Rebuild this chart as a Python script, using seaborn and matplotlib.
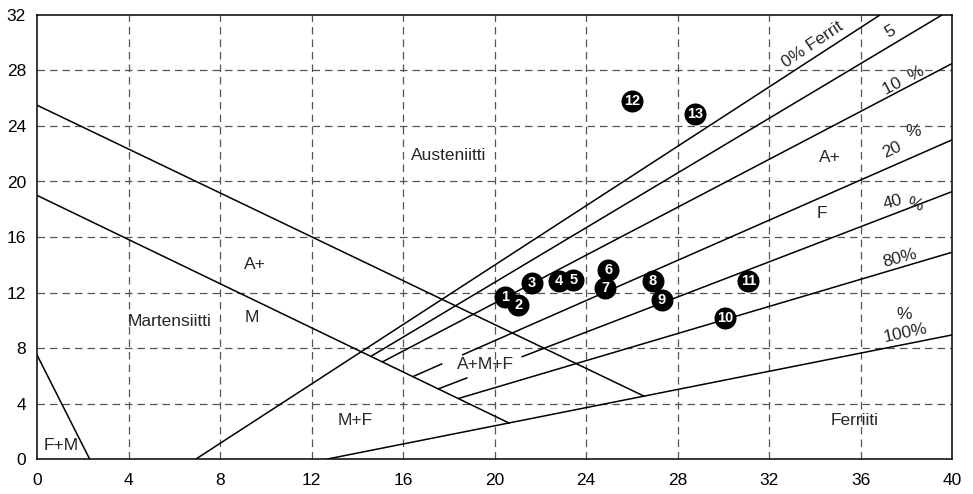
import numpy as np
import pandas as pd
import matplotlib
matplotlib.use("Agg")
import matplotlib.pyplot as plt
import seaborn as sns

# Phase boundaries (Cr-equivalent on x, Ni-equivalent on y)
boundary_names = ["A/A+M", "M/A+M", "F+M"]
boundary_x0 = [0.0, 0.0, 0.0]
boundary_y0 = [25.5, 19.0, 7.5]
boundary_x1 = [26.55, 20.65, 2.3]
boundary_y1 = [4.52, 2.58, 0.0]

# Iso-ferrite lines
ferrite_pct = [0, 5, 10, 20, 40, 80, 100]
ferrite_x0 = [6.95, 14.6, 15.1, 16.45, 17.54, 18.42, 12.7]
ferrite_y0 = [0.0, 7.4, 7.0, 5.95, 5.05, 4.36, 0.0]
ferrite_x1 = [36.85, 39.56, 40.0, 40.0, 40.0, 40.0, 40.0]
ferrite_y1 = [32.0, 32.0, 28.5, 23.0, 19.27, 14.9, 8.94]
# Breaks left open around the A+M+F label (x range, per ferrite %)
gap_pct = [20, 40]
gap_from = [17.7, 18.8]
gap_to = [18.6, 21.2]

# Weld metal samples
sample_id = [str(i) for i in range(1, 14)]
sample_cr = [20.46, 21.04, 21.63, 22.82, 23.45, 24.98, 24.83, 26.92, 27.31, 30.08, 31.1, 26.0, 28.77]
sample_ni = [11.7, 11.1, 12.71, 12.85, 12.9, 13.62, 12.3, 12.85, 11.46, 10.14, 12.85, 25.8, 24.9]

ticks_x = list(range(0, 41, 4))
ticks_y = list(range(0, 33, 4))

sns.set_theme(style="white")
plt.rcParams["font.family"] = ["Liberation Sans", "DejaVu Sans"]

fig = plt.figure(figsize=(9.73, 4.94), dpi=100)
ax = fig.add_axes([37 / 973, 1 - 459 / 494, 915 / 973, 444 / 494])

for xv in ticks_x[1:-1]:
    ax.axvline(xv, color="#555555", lw=0.9, ls=(0, (6, 4)), zorder=0)
for yv in ticks_y[1:-1]:
    ax.axhline(yv, color="#555555", lw=0.9, ls=(0, (6, 4)), zorder=0)


def segment(x0, y0, x1, y1):
    df = pd.DataFrame({"x": [x0, x1], "y": [y0, y1]})
    sns.lineplot(data=df, x="x", y="y", color="black", lw=1.1, sort=False,
                 ax=ax, zorder=2, legend=False)


for x0, y0, x1, y1 in zip(boundary_x0, boundary_y0, boundary_x1, boundary_y1):
    segment(x0, y0, x1, y1)

for p, x0, y0, x1, y1 in zip(ferrite_pct, ferrite_x0, ferrite_y0, ferrite_x1, ferrite_y1):
    slope = (y1 - y0) / (x1 - x0)
    if p in gap_pct:
        i = gap_pct.index(p)
        ga, gb = gap_from[i], gap_to[i]
        segment(x0, y0, ga, y0 + slope * (ga - x0))
        segment(gb, y0 + slope * (gb - x0), x1, y1)
    else:
        segment(x0, y0, x1, y1)

samples = pd.DataFrame({"cr": sample_cr, "ni": sample_ni, "id": sample_id})
sns.scatterplot(data=samples, x="cr", y="ni", s=215, color="black",
                edgecolor="black", ax=ax, zorder=4, legend=False)
for _, r in samples.iterrows():
    ax.text(r.cr, r.ni, r.id, color="white", fontsize=10.5, fontweight="bold",
            ha="center", va="center", zorder=5,
            family=["Liberation Sans Narrow", "Liberation Sans", "DejaVu Sans"])

# Region names
fs = 12.5
ax.text(18.0, 21.9, "Austeniitti", fontsize=fs, ha="center", va="center")
ax.text(9.53, 14.0, "A+", fontsize=fs, ha="center", va="center")
ax.text(9.4, 10.2, "M", fontsize=fs, ha="center", va="center")
ax.text(5.8, 9.9, "Martensiitti", fontsize=fs, ha="center", va="center")
ax.text(19.6, 6.8, "A+M+F", fontsize=fs, ha="center", va="center")
ax.text(13.9, 2.8, "M+F", fontsize=fs, ha="center", va="center")
ax.text(1.05, 0.94, "F+M", fontsize=fs, ha="center", va="center")
ax.text(35.76, 2.8, "Ferriiti", fontsize=fs, ha="center", va="center")
ax.text(34.67, 21.7, "A+", fontsize=fs, ha="center", va="center")
ax.text(34.3, 17.7, "F", fontsize=fs, ha="center", va="center")

# Ferrite line labels
ax.text(33.9, 29.9, "0% Ferrit", fontsize=fs, ha="center", va="center", rotation=34)
ax.text(37.3, 30.8, "5", fontsize=fs, ha="center", va="center", rotation=30)
ax.text(37.9, 27.3, "10  %", fontsize=fs, ha="center", va="center", rotation=28)
ax.text(37.36, 22.3, "20", fontsize=fs, ha="center", va="center", rotation=25)
ax.text(38.3, 23.6, "%", fontsize=fs, ha="center", va="center")
ax.text(37.43, 18.5, "40", fontsize=fs, ha="center", va="center", rotation=15)
ax.text(38.4, 18.3, "%", fontsize=fs, ha="center", va="center", rotation=-15)
ax.text(37.7, 14.5, "80%", fontsize=fs, ha="center", va="center", rotation=15)
ax.text(37.9, 10.45, "%", fontsize=fs, ha="center", va="center")
ax.text(37.95, 9.06, "100%", fontsize=fs, ha="center", va="center", rotation=12)

ax.set_xlim(0, 40)
ax.set_ylim(0, 32)
ax.set_xticks(ticks_x)
ax.set_yticks(ticks_y)
ax.tick_params(length=0, labelsize=fs, colors="black")
ax.tick_params(axis="x", pad=10)
ax.tick_params(axis="y", pad=8)
ax.set_xlabel("")
ax.set_ylabel("")
for sp in ax.spines.values():
    sp.set_color("black")
    sp.set_linewidth(1.1)
ax.grid(False)

fig.savefig("out.png", dpi=100, facecolor="white")
